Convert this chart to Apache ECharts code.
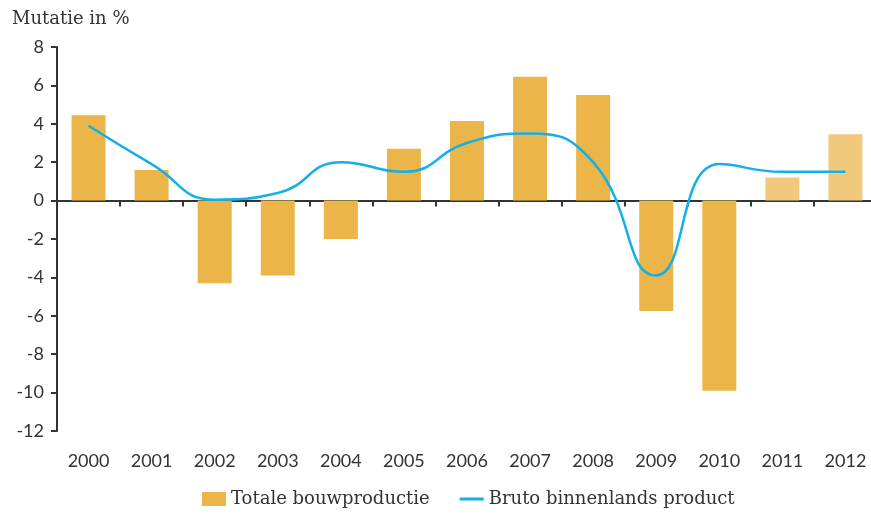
<!DOCTYPE html>
<html lang="nl">
<head>
    <meta charset="UTF-8">
    <title>Bouwproductie en bbp</title>
    <script src="https://cdn.jsdelivr.net/npm/echarts@6/dist/echarts.min.js"></script>
    <style>
        html, body { margin: 0; padding: 0; background: #fff; }
    </style>
</head>
<body>
    <div id="main" style="width: 871px; height: 516px;"></div>

    <script>
        // jaren en waarden (mutatie in %)
        var jaren = ['2000', '2001', '2002', '2003', '2004', '2005', '2006', '2007', '2008', '2009', '2010', '2011', '2012'];
        var bouwproductie = [4.45, 1.6, -4.3, -3.9, -2.0, 2.7, 4.15, 6.45, 5.5, -5.75, -9.9, 1.2, 3.45];
        var bbp = [3.9, 1.9, 0.05, 0.4, 2.0, 1.5, 3.0, 3.5, 2.0, -3.9, 1.9, 1.5, 1.5];
        // raming: deze jaren lichter gekleurd
        var ramingJaren = ['2011', '2012'];
        var yTicks = { min: -12, max: 8, interval: 2 };

        var kleurBar = '#ebb54a';
        var kleurRaming = '#f1c97d';
        var kleurLijn = '#14afe7';

        var barData = bouwproductie.map(function (v, i) {
            return {
                value: v,
                itemStyle: { color: ramingJaren.indexOf(jaren[i]) >= 0 ? kleurRaming : kleurBar }
            };
        });

        var myChart = echarts.init(document.getElementById('main'));

        var option = {
            animation: false,
            title: {
                text: 'Mutatie in %',
                left: 7,
                top: 5,
                textStyle: { fontFamily: 'DejaVu Serif', fontWeight: 'normal', fontSize: 18, color: '#333' }
            },
            grid: { left: 57, top: 47, width: 820, height: 384, outerBoundsMode: 'none' },
            legend: {
                left: 197,
                bottom: 3,
                itemWidth: 24,
                itemHeight: 14,
                itemGap: 30,
                textStyle: { fontFamily: 'DejaVu Serif', fontSize: 18, color: '#333' },
                data: [
                    { name: 'Totale bouwproductie', icon: 'rect', itemStyle: { color: kleurBar } },
                    { name: 'Bruto binnenlands product', icon: 'path://M0,0 H24 V3 H0 Z', itemStyle: { color: kleurLijn } }
                ]
            },
            xAxis: [
                {
                    type: 'category',
                    data: jaren,
                    axisLine: { onZero: true, lineStyle: { color: '#333', width: 2 } },
                    axisTick: { show: true, length: 6, inside: false, lineStyle: { color: '#333', width: 2 } },
                    axisLabel: { show: false }
                },
                {
                    type: 'category',
                    data: jaren,
                    position: 'bottom',
                    axisLine: { show: false },
                    axisTick: { show: false },
                    axisLabel: { margin: 21, fontFamily: 'Lato', fontSize: 18, color: '#333' }
                }
            ],
            yAxis: {
                type: 'value',
                min: yTicks.min,
                max: yTicks.max,
                interval: yTicks.interval,
                splitLine: { show: false },
                axisLine: { show: true, lineStyle: { color: '#333', width: 2 } },
                axisTick: { show: true, length: 6, lineStyle: { color: '#333', width: 2 } },
                axisLabel: { margin: 13, fontFamily: 'Lato', fontSize: 18, color: '#333' }
            },
            series: [
                {
                    name: 'Totale bouwproductie',
                    type: 'bar',
                    xAxisIndex: 0,
                    barWidth: 34,
                    itemStyle: { color: kleurBar },
                    data: barData
                },
                {
                    name: 'Bruto binnenlands product',
                    type: 'line',
                    xAxisIndex: 0,
                    smooth: 0.5,
                    symbol: 'none',
                    lineStyle: { color: kleurLijn, width: 2.5 },
                    itemStyle: { color: kleurLijn },
                    data: bbp
                }
            ]
        };

        myChart.setOption(option);
    </script>
</body>
</html>
